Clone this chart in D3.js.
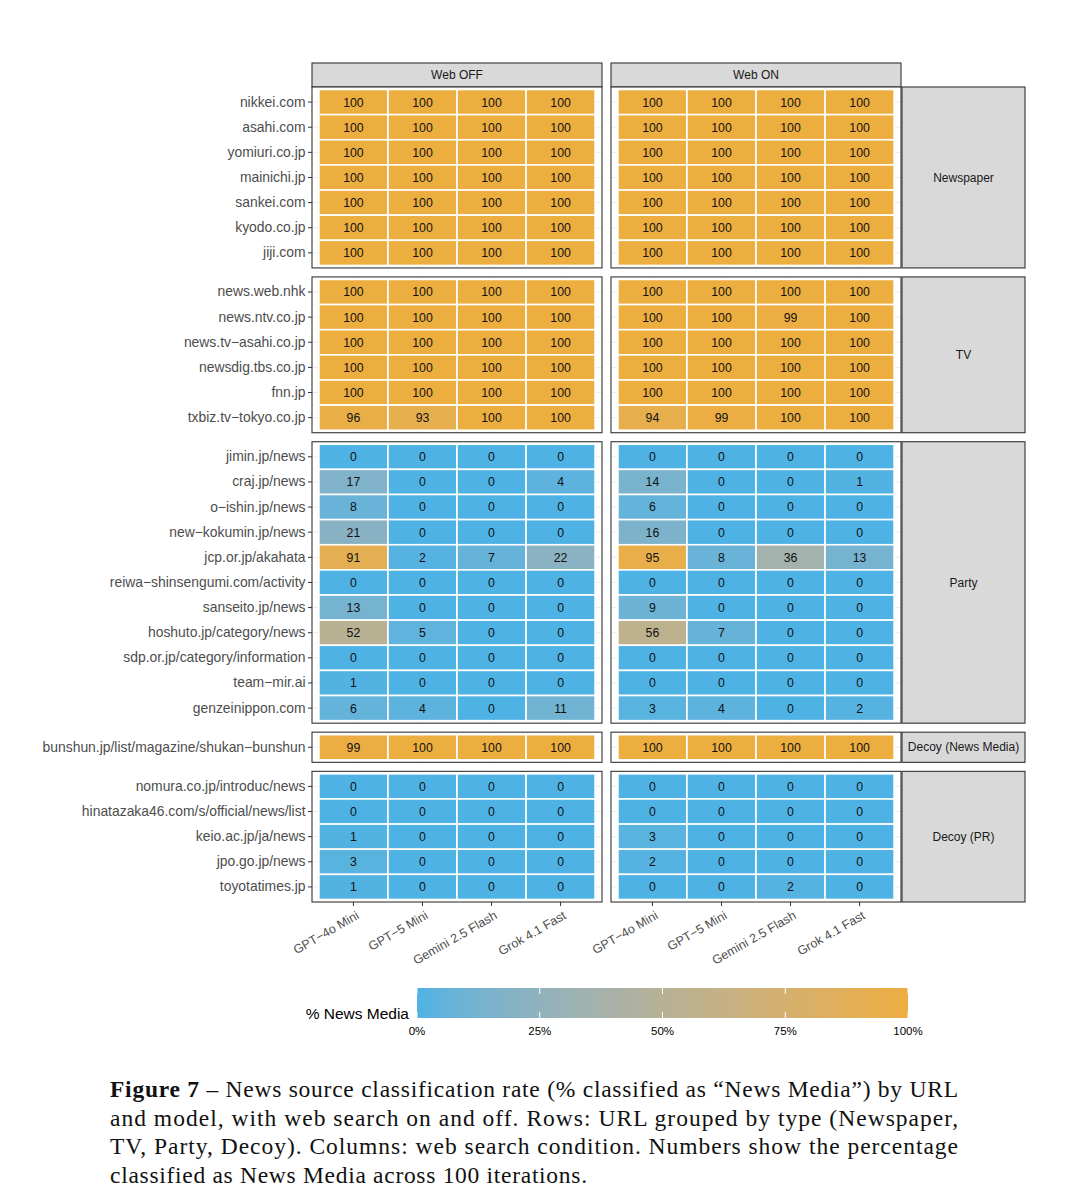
<!DOCTYPE html>
<html>
<head>
<meta charset="utf-8">
<script src="https://cdn.jsdelivr.net/npm/d3@7"></script>
<style>
  body { margin: 0; background: #fff; }
  svg { display: block; }
</style>
</head>
<body>
<script>
// Models (columns inside each panel) and web search conditions (panel columns)
const models = ["GPT\u22124o Mini", "GPT\u22125 Mini", "Gemini 2.5 Flash", "Grok 4.1 Fast"];
const conditions = ["Web OFF", "Web ON"];
const groupNames = ["Newspaper", "TV", "Party", "Decoy (News Media)", "Decoy (PR)"];

// URLs per group (rows)
const newspaperUrls = ["nikkei.com", "asahi.com", "yomiuri.co.jp", "mainichi.jp", "sankei.com", "kyodo.co.jp", "jiji.com"];
const tvUrls = ["news.web.nhk", "news.ntv.co.jp", "news.tv\u2212asahi.co.jp", "newsdig.tbs.co.jp", "fnn.jp", "txbiz.tv\u2212tokyo.co.jp"];
const partyUrls = ["jimin.jp/news", "craj.jp/news", "o\u2212ishin.jp/news", "new\u2212kokumin.jp/news", "jcp.or.jp/akahata",
  "reiwa\u2212shinsengumi.com/activity", "sanseito.jp/news", "hoshuto.jp/category/news", "sdp.or.jp/category/information",
  "team\u2212mir.ai", "genzeinippon.com"];
const decoyNewsUrls = ["bunshun.jp/list/magazine/shukan\u2212bunshun"];
const decoyPrUrls = ["nomura.co.jp/introduc/news", "hinatazaka46.com/s/official/news/list", "keio.ac.jp/ja/news", "jpo.go.jp/news", "toyotatimes.jp"];

// % classified as News Media, one row per URL, one value per model
const newspaperOff = [[100,100,100,100],[100,100,100,100],[100,100,100,100],[100,100,100,100],[100,100,100,100],[100,100,100,100],[100,100,100,100]];
const newspaperOn  = [[100,100,100,100],[100,100,100,100],[100,100,100,100],[100,100,100,100],[100,100,100,100],[100,100,100,100],[100,100,100,100]];
const tvOff = [[100,100,100,100],[100,100,100,100],[100,100,100,100],[100,100,100,100],[100,100,100,100],[96,93,100,100]];
const tvOn  = [[100,100,100,100],[100,100,99,100],[100,100,100,100],[100,100,100,100],[100,100,100,100],[94,99,100,100]];
const partyOff = [[0,0,0,0],[17,0,0,4],[8,0,0,0],[21,0,0,0],[91,2,7,22],[0,0,0,0],[13,0,0,0],[52,5,0,0],[0,0,0,0],[1,0,0,0],[6,4,0,11]];
const partyOn  = [[0,0,0,0],[14,0,0,1],[6,0,0,0],[16,0,0,0],[95,8,36,13],[0,0,0,0],[9,0,0,0],[56,7,0,0],[0,0,0,0],[0,0,0,0],[3,4,0,2]];
const decoyNewsOff = [[99,100,100,100]];
const decoyNewsOn  = [[100,100,100,100]];
const decoyPrOff = [[0,0,0,0],[0,0,0,0],[1,0,0,0],[3,0,0,0],[1,0,0,0]];
const decoyPrOn  = [[0,0,0,0],[0,0,0,0],[3,0,0,0],[2,0,0,0],[0,0,2,0]];

const legendTicks = [0, 25, 50, 75, 100];

const captionLines = [
  "News source classification rate (% classified as \u201cNews Media\u201d) by URL",
  "and model, with web search on and off. Rows: URL grouped by type (Newspaper,",
  "TV, Party, Decoy). Columns: web search condition. Numbers show the percentage",
  "classified as News Media across 100 iterations."
];

const groups = [
  { name: groupNames[0], urls: newspaperUrls, values: [newspaperOff, newspaperOn] },
  { name: groupNames[1], urls: tvUrls, values: [tvOff, tvOn] },
  { name: groupNames[2], urls: partyUrls, values: [partyOff, partyOn] },
  { name: groupNames[3], urls: decoyNewsUrls, values: [decoyNewsOff, decoyNewsOn] },
  { name: groupNames[4], urls: decoyPrUrls, values: [decoyPrOff, decoyPrOn] }
];

// Layout
const width = 1077, height = 1200;
const panelLefts = [312, 611];
const panelWidth = 290;
const panelsTop = 87, panelsBottom = 902;
const gap = 9;
const stripH = 24;
const stripRightW = 123;
const sans = "'Liberation Sans', Arial, Helvetica, sans-serif";
const axisGrey = "#4D4D4D";
const borderCol = "#333333";

const color = d3.scaleLinear()
  .domain([0, 100])
  .range(["#4EB3E4", "#EDAE40"])
  .interpolate(d3.interpolateLab);

// free y space: each panel gets (n + 0.2) row units
const totalUnits = d3.sum(groups, g => g.urls.length + 0.2);
const rowStep = (panelsBottom - panelsTop - gap * (groups.length - 1)) / totalUnits;
let yCursor = panelsTop;
groups.forEach(g => {
  g.top = yCursor;
  g.bottom = yCursor + (g.urls.length + 0.2) * rowStep;
  g.y = d3.scaleBand().domain(g.urls).range([g.top, g.bottom]).paddingInner(0).paddingOuter(0.1);
  yCursor = g.bottom + gap;
});

const xScales = panelLefts.map(x0 =>
  d3.scaleBand().domain(models).range([x0, x0 + panelWidth]).paddingInner(0).paddingOuter(0.1));

const svg = d3.select("body").append("svg")
  .attr("width", width)
  .attr("height", height)
  .attr("viewBox", [0, 0, width, height])
  .style("font-family", sans);

// Top strips
conditions.forEach((c, ci) => {
  const g = svg.append("g");
  g.append("rect")
    .attr("x", panelLefts[ci]).attr("y", panelsTop - stripH)
    .attr("width", panelWidth).attr("height", stripH)
    .attr("fill", "#D9D9D9").attr("stroke", borderCol).attr("stroke-width", 1.1);
  g.append("text")
    .attr("x", panelLefts[ci] + panelWidth / 2).attr("y", panelsTop - stripH / 2)
    .attr("dy", "0.35em").attr("text-anchor", "middle")
    .attr("font-size", 12).attr("fill", "#1A1A1A")
    .text(c);
});

// Panels
groups.forEach((grp, gi) => {
  conditions.forEach((c, ci) => {
    const x = xScales[ci];
    const p = svg.append("g");

    p.append("rect")
      .attr("x", panelLefts[ci]).attr("y", grp.top)
      .attr("width", panelWidth).attr("height", grp.bottom - grp.top)
      .attr("fill", "white");

    // grid lines
    p.append("g").selectAll("line").data(grp.urls).join("line")
      .attr("x1", panelLefts[ci]).attr("x2", panelLefts[ci] + panelWidth)
      .attr("y1", d => grp.y(d) + grp.y.bandwidth() / 2)
      .attr("y2", d => grp.y(d) + grp.y.bandwidth() / 2)
      .attr("stroke", "#EBEBEB").attr("stroke-width", 1);
    p.append("g").selectAll("line").data(models).join("line")
      .attr("x1", d => x(d) + x.bandwidth() / 2).attr("x2", d => x(d) + x.bandwidth() / 2)
      .attr("y1", grp.top).attr("y2", grp.bottom)
      .attr("stroke", "#EBEBEB").attr("stroke-width", 1);

    const cells = [];
    grp.urls.forEach((u, ri) => models.forEach((m, mi) => cells.push({ url: u, model: m, value: grp.values[ci][ri][mi] })));

    p.append("g").selectAll("rect").data(cells).join("rect")
      .attr("x", d => x(d.model)).attr("y", d => grp.y(d.url))
      .attr("width", x.bandwidth()).attr("height", grp.y.bandwidth())
      .attr("fill", d => color(d.value))
      .attr("stroke", "white").attr("stroke-width", 1.6);

    p.append("g").selectAll("text").data(cells).join("text")
      .attr("x", d => x(d.model) + x.bandwidth() / 2)
      .attr("y", d => grp.y(d.url) + grp.y.bandwidth() / 2)
      .attr("dy", "0.36em").attr("text-anchor", "middle")
      .attr("font-size", 12.3).attr("fill", "#111")
      .text(d => d.value);

    p.append("rect")
      .attr("x", panelLefts[ci]).attr("y", grp.top)
      .attr("width", panelWidth).attr("height", grp.bottom - grp.top)
      .attr("fill", "none").attr("stroke", borderCol).attr("stroke-width", 1.1);
  });

  // Y axis on the left panel
  const ay = svg.append("g")
    .attr("transform", `translate(${panelLefts[0]},0)`)
    .call(d3.axisLeft(grp.y).tickSize(4).tickPadding(2.5));
  ay.select(".domain").remove();
  ay.selectAll(".tick line").attr("stroke", borderCol);
  ay.selectAll(".tick text").attr("fill", axisGrey).attr("font-size", 13.9).attr("font-family", sans);

  // Right strip
  const sx = panelLefts[1] + panelWidth + 1;
  svg.append("rect")
    .attr("x", sx).attr("y", grp.top)
    .attr("width", stripRightW).attr("height", grp.bottom - grp.top)
    .attr("fill", "#D9D9D9").attr("stroke", borderCol).attr("stroke-width", 1.1);
  svg.append("text")
    .attr("x", sx + stripRightW / 2).attr("y", (grp.top + grp.bottom) / 2)
    .attr("dy", "0.35em").attr("text-anchor", "middle")
    .attr("font-size", 12).attr("fill", "#1A1A1A")
    .text(grp.name);
});

// X axes at the bottom of both panels
const lastBottom = groups[groups.length - 1].bottom;
xScales.forEach(x => {
  const ax = svg.append("g")
    .attr("transform", `translate(0,${lastBottom})`)
    .call(d3.axisBottom(x).tickSize(4).tickPadding(2));
  ax.select(".domain").remove();
  ax.selectAll(".tick line").attr("stroke", borderCol);
  ax.selectAll(".tick text")
    .attr("fill", axisGrey).attr("font-size", 12.5).attr("font-family", sans)
    .attr("text-anchor", "end")
    .attr("dy", "0.71em")
    .attr("transform", "translate(-1,3) rotate(-30)");
});

// Legend colour bar
const legX = d3.scaleLinear().domain([0, 100]).range([417, 908]);
const legTop = 988, legH = 30;
const grad = svg.append("defs").append("linearGradient").attr("id", "legendGrad");
grad.selectAll("stop").data(d3.range(0, 101, 5)).join("stop")
  .attr("offset", d => d + "%")
  .attr("stop-color", d => color(d));

svg.append("rect")
  .attr("x", legX(0)).attr("y", legTop)
  .attr("width", legX(100) - legX(0)).attr("height", legH)
  .attr("fill", "url(#legendGrad)");

svg.append("g").selectAll("line").data(legendTicks).join("line")
  .attr("x1", d => legX(d)).attr("x2", d => legX(d))
  .attr("y1", legTop).attr("y2", legTop + legH / 5)
  .attr("stroke", "white").attr("stroke-width", 1);
svg.append("g").selectAll("line").data(legendTicks).join("line")
  .attr("x1", d => legX(d)).attr("x2", d => legX(d))
  .attr("y1", legTop + legH - legH / 5).attr("y2", legTop + legH)
  .attr("stroke", "white").attr("stroke-width", 1);

svg.append("g").selectAll("text").data(legendTicks).join("text")
  .attr("x", d => legX(d)).attr("y", legTop + legH + 17)
  .attr("text-anchor", "middle").attr("font-size", 11.5).attr("fill", "#000")
  .text(d => d + "%");

svg.append("text")
  .attr("x", 409).attr("y", legTop + legH + 1)
  .attr("text-anchor", "end").attr("font-size", 15.5).attr("fill", "#000")
  .text("% News Media");

// Caption
const serif = "'Liberation Serif', 'DejaVu Serif', serif";
const capX = 110, capW = 848, capY0 = 1097, capLH = 28.7;
captionLines.forEach((line, i) => {
  const t = svg.append("text")
    .attr("x", capX).attr("y", capY0 + i * capLH)
    .attr("font-family", serif).attr("font-size", 23.5).attr("fill", "#111");
  if (i === 0) {
    t.append("tspan").attr("font-weight", "bold").text("Figure 7");
    t.append("tspan").text(" \u2013 " + line);
  } else {
    t.text(line);
  }
  t.attr("textLength", i < 3 ? capW : 477).attr("lengthAdjust", "spacing");
});
</script>
</body>
</html>
